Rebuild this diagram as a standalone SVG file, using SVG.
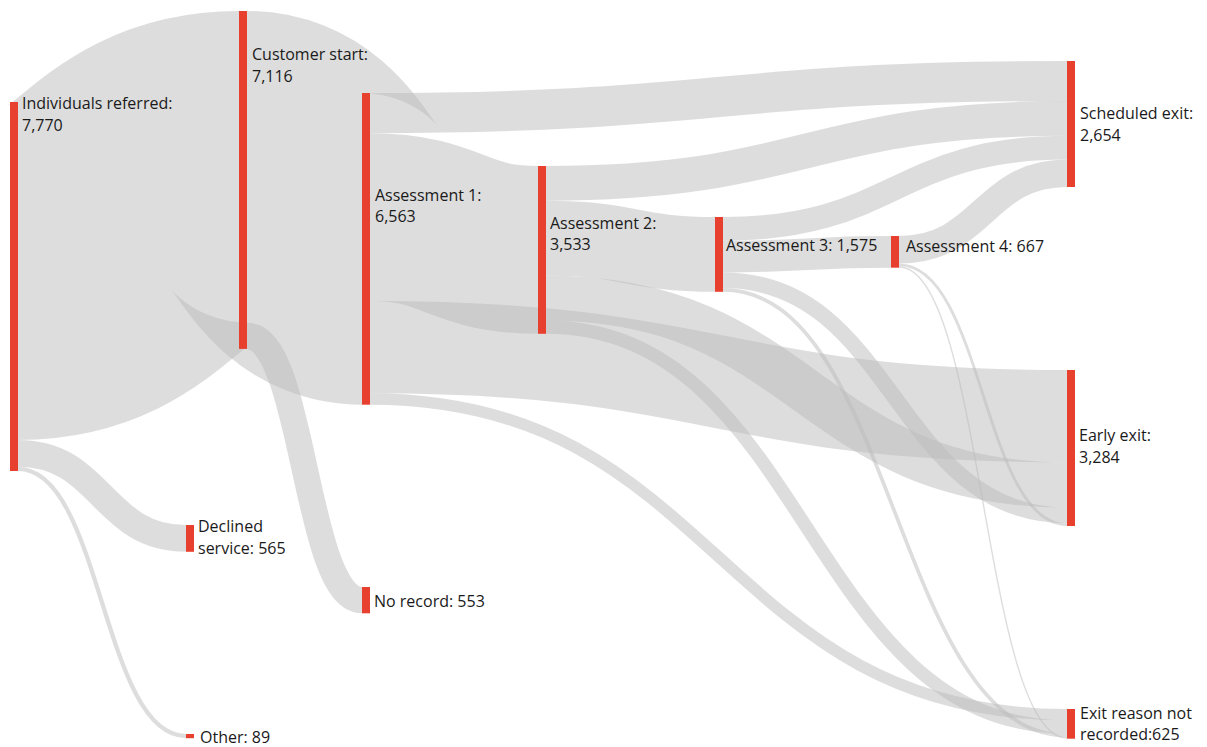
<svg xmlns="http://www.w3.org/2000/svg" width="1207" height="747" viewBox="0 0 1207 747">
<style>
.link{fill:none;stroke:#bcbcbc;stroke-opacity:0.5}
.node rect{fill:#e8402f}
.lbl{font-family:"Open Sans","Liberation Sans",sans-serif;font-size:16px;fill:#1a1a1a}
</style>
<rect width="1207" height="747" fill="#ffffff"/>
<g id="links">
<path class="link" stroke-width="337.9" d="M18,270.95 C128.5,270.95 128.5,179.95 239,179.95"/>
<path class="link" stroke-width="26.83" d="M18,453.3 C102,453.3 102,538.4 186,538.4"/>
<path class="link" stroke-width="4.23" d="M18,468.9 C102,468.9 102,736.1 186,736.1"/>
<path class="link" stroke-width="311.7" d="M247,166.8 C304.5,166.8 304.5,248.8 362,248.8"/>
<path class="link" stroke-width="26.26" d="M247,335.8 C304.5,335.8 304.5,600.1 362,600.1"/>
<path class="link" stroke-width="40.13" d="M370,113.06 C718.5,113.06 718.5,81.06 1067,81.06"/>
<path class="link" stroke-width="167.78" d="M370,217.02 C454,217.02 454,249.89 538,249.89"/>
<path class="link" stroke-width="92.37" d="M370,347.09 C718.5,347.09 718.5,416.18 1067,416.18"/>
<path class="link" stroke-width="11.4" d="M370,398.98 C718.5,398.98 718.5,714.7 1067,714.7"/>
<path class="link" stroke-width="34.67" d="M546,183.33 C806.5,183.33 806.5,118.46 1067,118.46"/>
<path class="link" stroke-width="74.8" d="M546,238.07 C630.5,238.07 630.5,254.4 715,254.4"/>
<path class="link" stroke-width="45.12" d="M546,298.03 C806.5,298.03 806.5,484.93 1067,484.93"/>
<path class="link" stroke-width="13.2" d="M546,327.19 C806.5,327.19 806.5,727 1067,727"/>
<path class="link" stroke-width="23.75" d="M723,228.87 C895,228.87 895,147.67 1067,147.67"/>
<path class="link" stroke-width="31.68" d="M723,256.59 C807,256.59 807,251.84 891,251.84"/>
<path class="link" stroke-width="15.67" d="M723,280.27 C895,280.27 895,515.33 1067,515.33"/>
<path class="link" stroke-width="3.7" d="M723,289.95 C895,289.95 895,735.45 1067,735.45"/>
<path class="link" stroke-width="27.5" d="M899,249.75 C983,249.75 983,173.3 1067,173.3"/>
<path class="link" stroke-width="2.8" d="M899,264.9 C983,264.9 983,524.56 1067,524.56"/>
<path class="link" stroke-width="1.38" d="M899,266.99 C983,266.99 983,737.99 1067,737.99"/>
</g>
<g id="node-referred" class="node"><rect x="10" y="102" width="8" height="369"/><text class="lbl" x="22" y="109">Individuals referred:</text><text class="lbl" x="22" y="131">7,770</text></g>
<g id="node-customer-start" class="node"><rect x="239" y="11" width="8" height="337.9"/><text class="lbl" x="252" y="60">Customer start:</text><text class="lbl" x="252" y="81.5">7,116</text></g>
<g id="node-assessment1" class="node"><rect x="362" y="93" width="8" height="311.7"/><text class="lbl" x="375" y="201">Assessment 1:</text><text class="lbl" x="375" y="222">6,563</text></g>
<g id="node-assessment2" class="node"><rect x="538" y="166" width="8" height="167.8"/><text class="lbl" x="550" y="229">Assessment 2:</text><text class="lbl" x="550" y="250">3,533</text></g>
<g id="node-assessment3" class="node"><rect x="715" y="217" width="8" height="74.8"/><text class="lbl" x="726" y="251">Assessment 3: 1,575</text></g>
<g id="node-assessment4" class="node"><rect x="891" y="236" width="8" height="31.7"/><text class="lbl" x="906" y="252">Assessment 4: 667</text></g>
<g id="node-scheduled-exit" class="node"><rect x="1067" y="61" width="8" height="126"/><text class="lbl" x="1080" y="119">Scheduled exit:</text><text class="lbl" x="1080" y="140.5">2,654</text></g>
<g id="node-early-exit" class="node"><rect x="1067" y="370" width="8" height="156"/><text class="lbl" x="1079" y="441">Early exit:</text><text class="lbl" x="1079" y="462.5">3,284</text></g>
<g id="node-exit-not-recorded" class="node"><rect x="1067" y="709" width="8" height="29.7"/><text class="lbl" x="1080" y="719">Exit reason not</text><text class="lbl" x="1080" y="740">recorded:625</text></g>
<g id="node-declined" class="node"><rect x="186" y="525" width="8" height="26.8"/><text class="lbl" x="198" y="532">Declined</text><text class="lbl" x="198" y="553.5">service: 565</text></g>
<g id="node-no-record" class="node"><rect x="362" y="587" width="8" height="26.3"/><text class="lbl" x="374" y="607">No record: 553</text></g>
<g id="node-other" class="node"><rect x="186" y="734" width="8" height="4.2"/><text class="lbl" x="200" y="742.5">Other: 89</text></g>
</svg>
